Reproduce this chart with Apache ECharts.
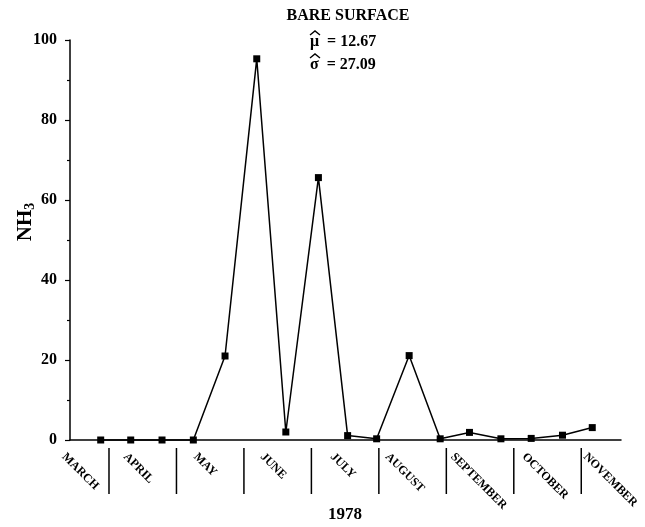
<!DOCTYPE html>
<html>
<head>
<meta charset="utf-8">
<script src="https://cdn.jsdelivr.net/npm/echarts@6/dist/echarts.min.js"></script>
<style>html,body{margin:0;padding:0;background:#fff}#c{width:645px;height:527px}</style>
</head>
<body>
<div id="c"></div>
<script>
// Sampling positions in "months since 1 March 1978" and NH3 values
const samplePos = [0.877, 1.322, 1.786, 2.250, 2.720, 3.190, 3.621, 4.104, 4.537, 4.967, 5.449, 5.909, 6.343, 6.809, 7.258, 7.722, 8.163];
const nh3 = [0, 0, 0, 0, 21, 95.3, 2.0, 65.6, 1.1, 0.3, 21.1, 0.3, 1.9, 0.3, 0.4, 1.2, 3.1];
const months = ['MARCH', 'APRIL', 'MAY', 'JUNE', 'JULY', 'AUGUST', 'SEPTEMBER', 'OCTOBER', 'NOVEMBER'];
const monthLabelPos = [0.33, 1.24, 2.28, 3.27, 4.31, 5.12, 6.09, 7.15, 8.06];
const monthBoundaries = [1, 2, 3, 4, 5, 6, 7, 8];
const yTicks = [0, 20, 40, 60, 80, 100];

const SERIF = '"Liberation Serif", "DejaVu Serif", serif';
const chart = echarts.init(document.getElementById('c'), null, {renderer: 'canvas'});

const decoData = monthBoundaries.map((b, i) => [b, 0, 'sep']).concat(
  months.map((m, i) => [monthLabelPos[i], 0, m])
);

function hat(x, y) {
  return {type: 'polyline', shape: {points: [[x, y + 4], [x + 5, y], [x + 10, y + 4]]},
    style: {stroke: '#000', lineWidth: 1.4, fill: null}};
}

chart.setOption({
  animation: false,
  backgroundColor: '#fff',
  grid: {left: 70, right: 24, top: 40, bottom: 87, containLabel: false},
  xAxis: {
    type: 'value', min: 0.422, max: 8.589,
    axisLine: {show: true, onZero: false, lineStyle: {color: '#000', width: 1.5}},
    axisTick: {show: false}, axisLabel: {show: false}, splitLine: {show: false}
  },
  yAxis: {
    type: 'value', min: 0, max: 100, interval: 20,
    axisLine: {show: true, lineStyle: {color: '#000', width: 1.5}},
    axisTick: {show: true, length: 5, lineStyle: {color: '#000', width: 1.2}},
    minorTick: {show: true, splitNumber: 2, length: 3, lineStyle: {color: '#000', width: 1.2}},
    axisLabel: {color: '#000', fontFamily: SERIF, fontWeight: 'bold', fontSize: 16, margin: 13,
      customValues: yTicks},
    splitLine: {show: false}
  },
  graphic: [
    {type: 'text', x: 348, y: 16, style: {text: 'BARE SURFACE', font: 'bold 16px ' + SERIF, fill: '#000', align: 'center', verticalAlign: 'middle'}},
    {type: 'text', x: 310, y: 42, style: {text: '\u03bc  = 12.67', font: 'bold 16px ' + SERIF, fill: '#000', align: 'left', verticalAlign: 'middle'}},
    {type: 'text', x: 310, y: 65, style: {text: '\u03c3  = 27.09', font: 'bold 16px ' + SERIF, fill: '#000', align: 'left', verticalAlign: 'middle'}},
    hat(310, 31),
    hat(310, 54),
    {type: 'text', x: 345, y: 515, style: {text: '1978', font: 'bold 17px ' + SERIF, fill: '#000', align: 'center', verticalAlign: 'middle'}},
    {type: 'text', x: 26, y: 222, rotation: Math.PI / 2, style: {
      text: 'NH{s|3}', font: 'bold 21px ' + SERIF, fill: '#000', align: 'center', verticalAlign: 'middle',
      rich: {s: {font: 'bold 14px ' + SERIF, fill: '#000', verticalAlign: 'bottom', padding: [9, 0, 0, 0]}}
    }}
  ],
  series: [
    {
      type: 'line',
      data: samplePos.map((x, i) => [x, nh3[i]]),
      symbol: 'rect', symbolSize: 7,
      lineStyle: {color: '#000', width: 1.5},
      itemStyle: {color: '#000'},
      clip: false, z: 3
    },
    {
      type: 'custom',
      data: decoData,
      clip: false,
      silent: true,
      renderItem: function (params, api) {
        const p = api.coord([api.value(0), 0]);
        const kind = decoData[params.dataIndex][2];
        if (kind === 'sep') {
          return {type: 'line', shape: {x1: p[0], y1: p[1] + 8, x2: p[0], y2: p[1] + 54},
            style: {stroke: '#000', lineWidth: 1.5}};
        }
        return {type: 'text', x: p[0], y: p[1] + 15, rotation: -Math.PI / 4,
          style: {text: kind, font: 'bold 12px ' + SERIF, fill: '#000', align: 'left', verticalAlign: 'middle'}};
      }
    }
  ]
});
</script>
</body>
</html>
